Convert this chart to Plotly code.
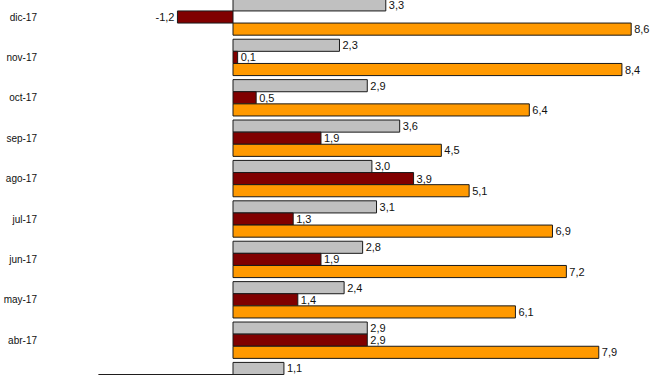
import numpy as np
import plotly.graph_objects as go

categories = ["dic-17", "nov-17", "oct-17", "sep-17", "ago-17", "jul-17",
              "jun-17", "may-17", "abr-17", "mar-17"]
serie_gris = [3.3, 2.3, 2.9, 3.6, 3.0, 3.1, 2.8, 2.4, 2.9, 1.1]
serie_granate = [-1.2, 0.1, 0.5, 1.9, 3.9, 1.3, 1.9, 1.4, 2.9, -2.9]
serie_naranja = [8.6, 8.4, 6.4, 4.5, 5.1, 6.9, 7.2, 6.1, 7.9, 6.0]

def fmt(vals):
    return [f"{v:.1f}".replace(".", ",") for v in vals]

W, H = 660, 375
L = 42
px_per_unit = 46.3
zero_px = 233
x_min = -(zero_px - L) / px_per_unit
x_max = (W - zero_px) / px_per_unit
slot = 40.4
first_center = 17
y_top = -first_center / slot
y_bot = (H - first_center) / slot

fig = go.Figure()
for vals, color in [(serie_gris, "#C0C0C0"), (serie_granate, "#800000"), (serie_naranja, "#FF9900")]:
    fig.add_trace(go.Bar(
        y=categories, x=vals, orientation="h",
        marker=dict(color=color, line=dict(color="#1a1a1a", width=1)),
        text=fmt(vals), textposition="outside", constraintext="none",
        textfont=dict(family="Liberation Sans, Arial", size=11, color="#111"),
        cliponaxis=True, showlegend=False, hoverinfo="skip",
    ))

fig.update_layout(
    width=W, height=H,
    margin=dict(l=L, r=0, t=0, b=0, pad=0),
    barmode="group", bargap=0.1, bargroupgap=0,
    plot_bgcolor="white", paper_bgcolor="white",
    xaxis=dict(range=[x_min, x_max], visible=False, showgrid=False,
               zeroline=False, automargin=False),
    yaxis=dict(type="category", categoryorder="array", categoryarray=categories,
               range=[y_bot, y_top], showgrid=False, zeroline=False, showline=False,
               ticks="", ticklabelstandoff=4, automargin=False,
               tickfont=dict(family="Liberation Sans, Arial", size=10, color="#111")),
    yaxis2=dict(type="linear", overlaying="y", anchor="free",
                position=(zero_px - L) / (W - L), side="left",
                range=[y_bot, y_top], automargin=False,
                tickvals=list(np.arange(len(categories) + 1) - 0.5),
                ticks="outside", ticklen=4, tickcolor="#333",
                showticklabels=False, showgrid=False, zeroline=False,
                showline=True, linecolor="#222", linewidth=1),
)

fig.write_html(
    "out.html",
    config={"displayModeBar": False, "staticPlot": True},
    post_script="document.body.style.margin='0';document.body.style.overflow='hidden';",
)
